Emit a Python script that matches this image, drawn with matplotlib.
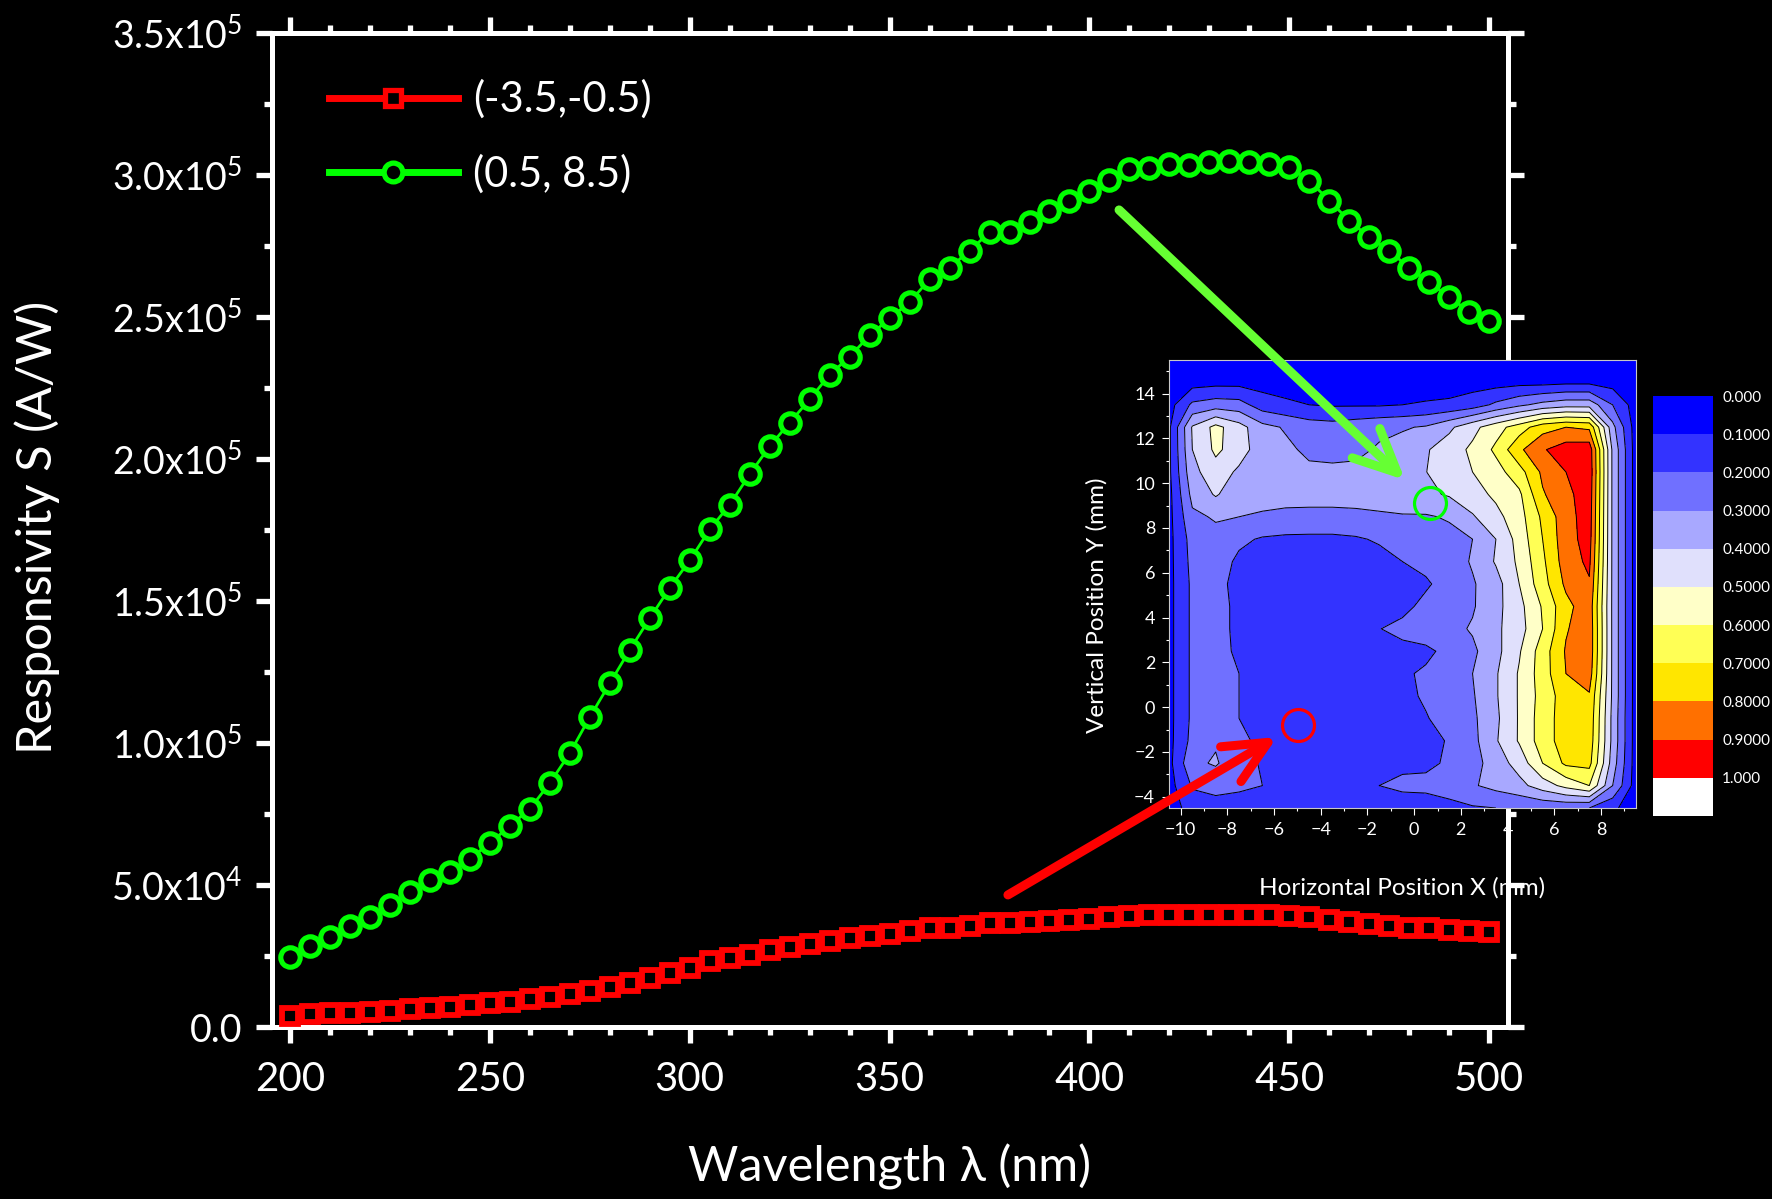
import numpy as np
import matplotlib
matplotlib.use('Agg')
import matplotlib.pyplot as plt
from matplotlib.lines import Line2D
from matplotlib.patches import ConnectionPatch
from matplotlib.colors import ListedColormap
from matplotlib.ticker import FixedLocator, FixedFormatter, MultipleLocator

plt.rcParams['font.family'] = ['Lato', 'DejaVu Sans']
plt.rcParams['mathtext.default'] = 'regular'

# ---------------- data ----------------
wavelength = list(range(200, 505, 5))

resp_red = [3980, 4430, 4790, 5020, 5370, 5720, 6300, 6780, 7140, 7710,
            8300, 8890, 9700, 10650, 11580, 12770, 14180, 15590, 17350, 18860,
            20800, 23200, 24400, 25500, 27100, 28300, 29400, 30200, 31200, 32100,
            32900, 33700, 34700, 35000, 35600, 36500, 36500, 37000, 37400, 37600,
            38100, 38600, 39200, 39400, 39400, 39600, 39600, 39600, 39400, 39400,
            39200, 38600, 37600, 36800, 36100, 35600, 34900, 34700, 34100, 33700, 33300]

resp_green = [24700, 28400, 31800, 35400, 38800, 42900, 47500, 51600, 54600, 59300,
              64700, 70800, 76800, 85900, 96400, 109100, 121000, 132800, 143900, 154600,
              164300, 175200, 183900, 194600, 204500, 212800, 221000, 229700, 236000, 243500,
              249500, 255200, 263300, 267300, 273400, 279800, 279800, 283500, 287500, 290900,
              294400, 298400, 302000, 302400, 303900, 303600, 304500, 305100, 304500, 303900,
              302700, 298000, 291000, 283900, 278100, 273400, 267200, 262200, 257000, 251900, 248700]

series_labels = ['(-3.5,-0.5)', '(0.5, 8.5)']

y_ticks = [0, 50000, 100000, 150000, 200000, 250000, 300000, 350000]
y_tick_labels = ['0.0', '5.0x10$^{4}$', '1.0x10$^{5}$', '1.5x10$^{5}$', '2.0x10$^{5}$',
                 '2.5x10$^{5}$', '3.0x10$^{5}$', '3.5x10$^{5}$']
x_ticks = [200, 250, 300, 350, 400, 450, 500]

# inset map grid (mm), normalized responsivity, rows from Y=15.5 (top) to Y=-4.5 (bottom)
map_x = [-10.5, -9.5, -8.5, -7.5, -6.5, -5.5, -4.5, -3.5, -2.5, -1.5, -0.5,
         0.5, 1.5, 2.5, 3.5, 4.5, 5.5, 6.5, 7.5, 8.5, 9.5]
map_y_top_down = [15.5, 14.5, 13.5, 12.5, 11.5, 10.5, 9.5, 8.5, 7.5, 6.5, 5.5,
                  4.5, 3.5, 2.5, 1.5, 0.5, -0.5, -1.5, -2.5, -3.5, -4.5]
map_rows = [
    [0.02,0.03,0.03,0.03,0.03,0.03,0.03,0.03,0.03,0.03,0.03,0.03,0.03,0.03,0.03,0.03,0.03,0.03,0.03,0.03,0.02],
    [0.03,0.06,0.07,0.07,0.06,0.05,0.05,0.05,0.05,0.05,0.05,0.05,0.05,0.06,0.06,0.07,0.07,0.08,0.08,0.06,0.03],
    [0.06,0.22,0.25,0.24,0.15,0.12,0.10,0.09,0.09,0.09,0.10,0.11,0.12,0.15,0.22,0.28,0.33,0.36,0.36,0.20,0.05],
    [0.08,0.41,0.53,0.44,0.33,0.29,0.25,0.24,0.26,0.28,0.29,0.31,0.38,0.47,0.56,0.65,0.76,0.80,0.78,0.33,0.05],
    [0.08,0.40,0.52,0.45,0.34,0.32,0.28,0.27,0.28,0.31,0.34,0.39,0.45,0.52,0.62,0.78,0.89,0.95,0.96,0.38,0.05],
    [0.08,0.37,0.46,0.38,0.34,0.33,0.32,0.32,0.32,0.34,0.36,0.398,0.45,0.50,0.56,0.66,0.82,0.90,0.97,0.38,0.05],
    [0.07,0.33,0.41,0.34,0.33,0.33,0.34,0.34,0.35,0.36,0.37,0.38,0.41,0.46,0.52,0.58,0.79,0.87,0.96,0.38,0.05],
    [0.07,0.28,0.31,0.30,0.29,0.28,0.27,0.27,0.27,0.28,0.29,0.29,0.31,0.39,0.47,0.56,0.72,0.86,0.95,0.38,0.05],
    [0.07,0.24,0.27,0.22,0.19,0.18,0.18,0.18,0.19,0.21,0.22,0.25,0.27,0.30,0.40,0.54,0.70,0.86,0.94,0.38,0.05],
    [0.07,0.23,0.25,0.18,0.15,0.14,0.14,0.14,0.15,0.17,0.20,0.22,0.25,0.31,0.41,0.52,0.68,0.85,0.92,0.38,0.05],
    [0.07,0.22,0.24,0.16,0.13,0.12,0.12,0.13,0.14,0.15,0.17,0.19,0.23,0.29,0.36,0.50,0.66,0.82,0.89,0.38,0.05],
    [0.07,0.22,0.23,0.18,0.13,0.12,0.12,0.13,0.14,0.16,0.18,0.22,0.25,0.29,0.37,0.47,0.61,0.77,0.86,0.38,0.05],
    [0.07,0.22,0.23,0.18,0.13,0.12,0.12,0.13,0.15,0.198,0.22,0.24,0.27,0.31,0.38,0.46,0.60,0.79,0.87,0.38,0.05],
    [0.07,0.22,0.22,0.19,0.13,0.12,0.12,0.13,0.14,0.16,0.18,0.185,0.22,0.28,0.37,0.49,0.65,0.81,0.87,0.38,0.05],
    [0.07,0.22,0.22,0.20,0.14,0.13,0.13,0.14,0.15,0.17,0.19,0.21,0.25,0.30,0.39,0.51,0.65,0.80,0.85,0.38,0.05],
    [0.07,0.22,0.22,0.20,0.15,0.14,0.14,0.14,0.15,0.17,0.18,0.21,0.25,0.29,0.39,0.51,0.64,0.75,0.79,0.38,0.05],
    [0.07,0.22,0.22,0.20,0.15,0.14,0.14,0.14,0.15,0.17,0.18,0.195,0.23,0.28,0.38,0.51,0.65,0.75,0.77,0.37,0.05],
    [0.07,0.23,0.29,0.22,0.18,0.15,0.14,0.14,0.15,0.16,0.17,0.18,0.205,0.27,0.39,0.51,0.65,0.75,0.76,0.37,0.05],
    [0.07,0.28,0.31,0.24,0.19,0.15,0.14,0.14,0.15,0.16,0.18,0.185,0.21,0.26,0.35,0.44,0.60,0.72,0.73,0.35,0.05],
    [0.06,0.21,0.24,0.22,0.20,0.17,0.16,0.16,0.17,0.20,0.22,0.22,0.23,0.29,0.33,0.37,0.45,0.53,0.60,0.30,0.05],
    [0.04,0.15,0.15,0.15,0.14,0.14,0.13,0.13,0.13,0.14,0.15,0.16,0.18,0.19,0.20,0.21,0.22,0.22,0.20,0.12,0.04],
]
map_levels = [0.0, 0.1, 0.2, 0.3, 0.4, 0.5, 0.6, 0.7, 0.8, 0.9, 1.0, 1.1]
band_colors = ['#0000ff', '#3333ff', '#7070ff', '#a8a8ff', '#e0e0fc', '#ffffc8',
               '#ffff55', '#ffe600', '#ff7000', '#ff0000', '#ffffff']
cbar_labels = ['0.000', '0.1000', '0.2000', '0.3000', '0.4000', '0.5000',
               '0.6000', '0.7000', '0.8000', '0.9000', '1.000']

# probe positions on the map (mm)
probe_x = [-4.96, 0.68]
probe_y = [-0.79, 9.13]

# arrow anchors: tail in main-plot data, tip in map data
arrow_tail = [(379.6, 46500), (407.4, 287700)]
arrow_tip = [(-5.87, -1.33), (-0.39, 10.14)]

RED = '#ff0000'
GREEN = '#00ff00'
ARROW_GREEN = '#66ff33'

# ---------------- figure ----------------
W, H = 1772, 1199
fig = plt.figure(figsize=(W / 100, H / 100), dpi=100, facecolor='black')


def frame(x0, y0, x1, y1):
    return [x0 / W, 1 - y1 / H, (x1 - x0) / W, (y1 - y0) / H]


ax = fig.add_axes(frame(272, 33, 1508, 1027))
ax.set_facecolor('black')

ax.plot(wavelength, resp_red, color=RED, lw=2, marker='s', ms=11.5, mew=4.2,
        mfc='black', mec=RED, zorder=3)
ax.plot(wavelength, resp_green, color=GREEN, lw=2, marker='o', ms=14, mew=3.7,
        mfc='black', mec=GREEN, zorder=4)

ax.set_xlim(195.5, 504.7)
ax.set_ylim(0, 350000)

ax.xaxis.set_major_locator(FixedLocator(x_ticks))
ax.xaxis.set_minor_locator(MultipleLocator(10))
ax.yaxis.set_major_locator(FixedLocator(y_ticks))
ax.yaxis.set_major_formatter(FixedFormatter(y_tick_labels))
ax.yaxis.set_minor_locator(MultipleLocator(25000))

for s in ax.spines.values():
    s.set_color('white')
    s.set_linewidth(3.6)

ax.tick_params(which='both', direction='out', colors='white', top=True, right=True,
               labeltop=False, labelright=False)
ax.tick_params(which='major', length=11.5, width=3.8)
ax.tick_params(which='minor', length=5.5, width=3.8)
ax.tick_params(axis='x', which='major', labelsize=29, pad=13)
ax.tick_params(axis='y', which='major', labelsize=27, pad=10)

ax.set_xlabel('Wavelength λ (nm)', fontsize=35, color='white')
ax.xaxis.set_label_coords(0.5, -0.118)
ax.set_ylabel('Responsivity S (A/W)', fontsize=35, color='white', va='center')
ax.yaxis.set_label_coords(-0.190, 0.503)

handles = [Line2D([], [], color=RED, lw=5, marker='s', ms=12, mew=3.8, mfc='black', mec=RED),
           Line2D([], [], color=GREEN, lw=5, marker='o', ms=13.5, mew=3.8, mfc='black', mec=GREEN)]
ax.legend(handles, series_labels, loc='upper left', bbox_to_anchor=(0.046, 0.953),
          frameon=False, fontsize=30, handlelength=3.1, handletextpad=0.36,
          labelspacing=0.84, borderpad=0, borderaxespad=0, labelcolor='white')

# ---------------- inset map ----------------
axin = fig.add_axes(frame(1169, 360, 1636, 808))
Z = np.array(map_rows)[::-1]
Yv = np.array(map_y_top_down)[::-1]
Xg, Yg = np.meshgrid(map_x, Yv)
axin.contourf(Xg, Yg, Z, levels=map_levels, colors=band_colors)
axin.contour(Xg, Yg, Z, levels=map_levels[1:-1], colors='black', linewidths=0.7)
axin.plot(probe_x[0], probe_y[0], marker='o', ms=23, mfc='none', mec=RED, mew=2.3, zorder=5)
axin.plot(probe_x[1], probe_y[1], marker='o', ms=23, mfc='none', mec=GREEN, mew=2.3, zorder=5)
axin.set_xlim(-10.5, 9.5)
axin.set_ylim(-4.5, 15.5)
axin.xaxis.set_major_locator(MultipleLocator(2))
axin.xaxis.set_minor_locator(MultipleLocator(1))
axin.yaxis.set_major_locator(MultipleLocator(2))
axin.yaxis.set_minor_locator(MultipleLocator(1))
axin.tick_params(which='both', direction='out', colors='white', top=False, right=False)
axin.tick_params(which='major', length=5, width=0.8, labelsize=13, pad=5)
axin.tick_params(which='minor', length=2.5, width=0.8)
for s in axin.spines.values():
    s.set_color('#c8c8c8')
    s.set_linewidth(0.8)
axin.set_xlabel('Horizontal Position X (mm)', fontsize=17.5, color='white', va='center')
axin.xaxis.set_label_coords(0.5, -0.178)
axin.set_ylabel('Vertical Position Y (mm)', fontsize=17.5, color='white', va='center')
axin.yaxis.set_label_coords(-0.155, 0.452)

# ---------------- colour scale ----------------
cax = fig.add_axes(frame(1653, 396, 1713, 816))
cax.pcolormesh([0, 1], np.arange(len(band_colors) + 1),
               np.arange(len(band_colors)).reshape(-1, 1),
               cmap=ListedColormap(band_colors), vmin=-0.5, vmax=len(band_colors) - 0.5)
cax.set_xlim(0, 1)
cax.set_ylim(len(band_colors), 0)
cax.set_xticks([])
cax.set_yticks(range(len(cbar_labels)))
cax.set_yticklabels(cbar_labels)
cax.yaxis.tick_right()
cax.tick_params(axis='y', length=0, pad=6.5, labelsize=11, labelcolor='white')
for s in cax.spines.values():
    s.set_visible(False)

# ---------------- arrows ----------------
for tail, tip, col in zip(arrow_tail, arrow_tip, [RED, ARROW_GREEN]):
    con = ConnectionPatch(xyA=tail, coordsA='data', axesA=ax,
                          xyB=tip, coordsB='data', axesB=axin,
                          arrowstyle='->,head_length=31,head_width=14.5',
                          mutation_scale=1, lw=6.5, color=col,
                          shrinkA=0, shrinkB=0, zorder=10)
    fig.add_artist(con)

fig.savefig('out.png', dpi=100, facecolor='black')
